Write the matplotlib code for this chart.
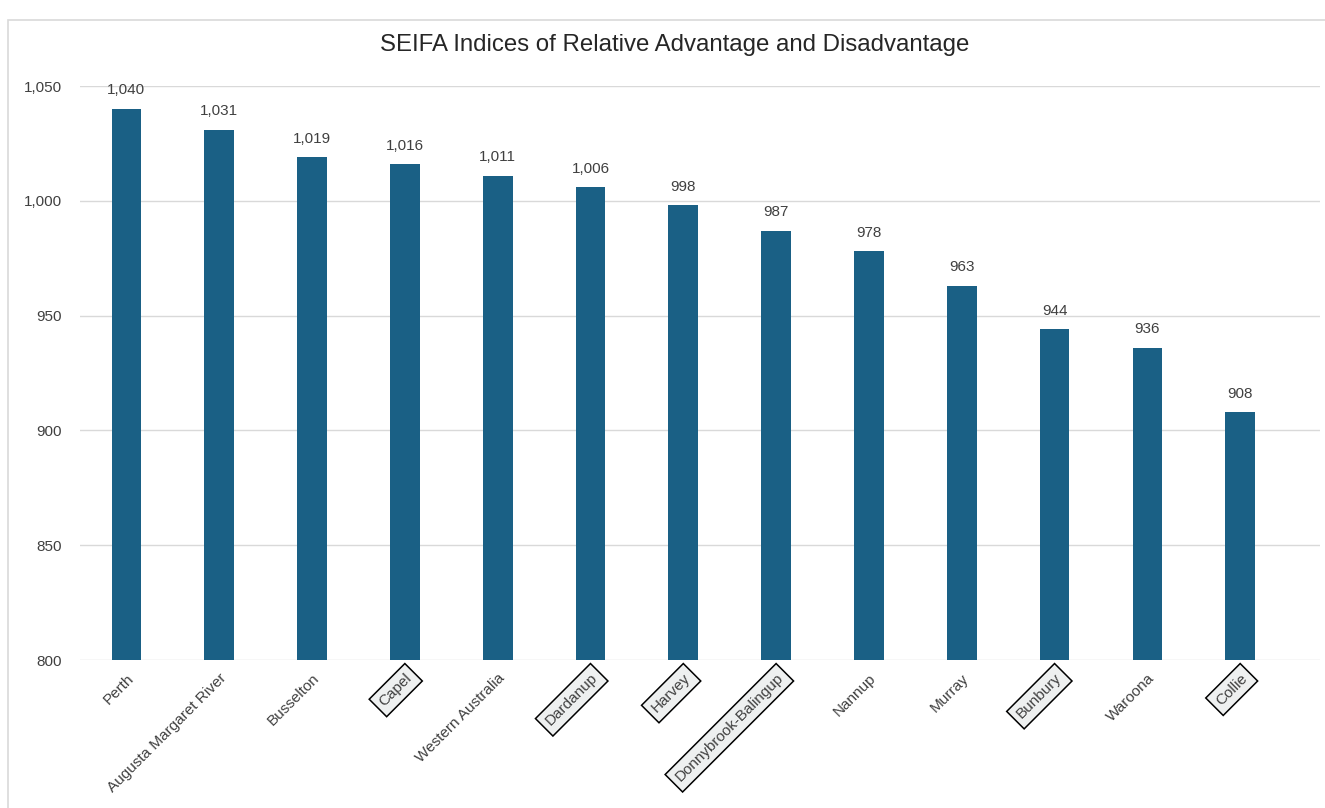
import matplotlib.pyplot as plt
from matplotlib.patches import Rectangle
from matplotlib.ticker import FuncFormatter, MultipleLocator

plt.rcParams['font.family'] = ['Liberation Sans', 'DejaVu Sans']

regions = ['Perth', 'Augusta Margaret River', 'Busselton', 'Capel',
           'Western Australia', 'Dardanup', 'Harvey', 'Donnybrook-Balingup',
           'Nannup', 'Murray', 'Bunbury', 'Waroona', 'Collie']
seifa = [1040, 1031, 1019, 1016, 1011, 1006, 998, 987, 978, 963, 944, 936, 908]
boxed = ['Capel', 'Dardanup', 'Harvey', 'Donnybrook-Balingup', 'Bunbury', 'Collie']

bar_color = '#1a6085'
text_color = '#404040'

fig = plt.figure(figsize=(13.25, 8.08), dpi=100)
ax = fig.add_axes([80 / 1325, (808 - 660) / 808, 1240 / 1325, 574 / 808])

# chart area frame
fig.patches.append(Rectangle((8 / 1325, -0.01), 1.02, 1 - 12 / 808,
                             transform=fig.transFigure, fill=False,
                             ec='#d9d9d9', lw=1.2))

x = range(len(regions))
bars = ax.bar(x, seifa, width=0.32, color=bar_color, zorder=3)
for b, v in zip(bars, seifa):
    ax.text(b.get_x() + b.get_width() / 2, v + 5, f'{v:,}', ha='center',
            va='bottom', fontsize=11, color=text_color)

ax.set_ylim(800, 1050)
ax.set_xlim(-0.5, 12.86)
ax.yaxis.set_major_locator(MultipleLocator(50))
ax.yaxis.set_major_formatter(FuncFormatter(lambda v, p: f'{int(v):,}'))
ax.grid(axis='y', color='#d9d9d9', lw=1, zorder=0)
for s in ax.spines.values():
    s.set_visible(False)
ax.tick_params(axis='both', length=0, labelsize=11, labelcolor=text_color)
ax.tick_params(axis='y', pad=13)

ax.set_xticks(list(x))
ax.set_xticklabels(regions, rotation=45, ha='right', rotation_mode='anchor')
ax.tick_params(axis='x', pad=8)
for lbl in ax.get_xticklabels():
    if lbl.get_text() in boxed:
        lbl.set_bbox(dict(boxstyle='square,pad=0.35', fc='#eef0f0',
                          ec='black', lw=1.1))

fig.text(675 / 1325, 1 - 45 / 808, 'SEIFA Indices of Relative Advantage and Disadvantage',
         ha='center', va='center', fontsize=17.3, color='#262626')

fig.savefig('out.png', dpi=100)
